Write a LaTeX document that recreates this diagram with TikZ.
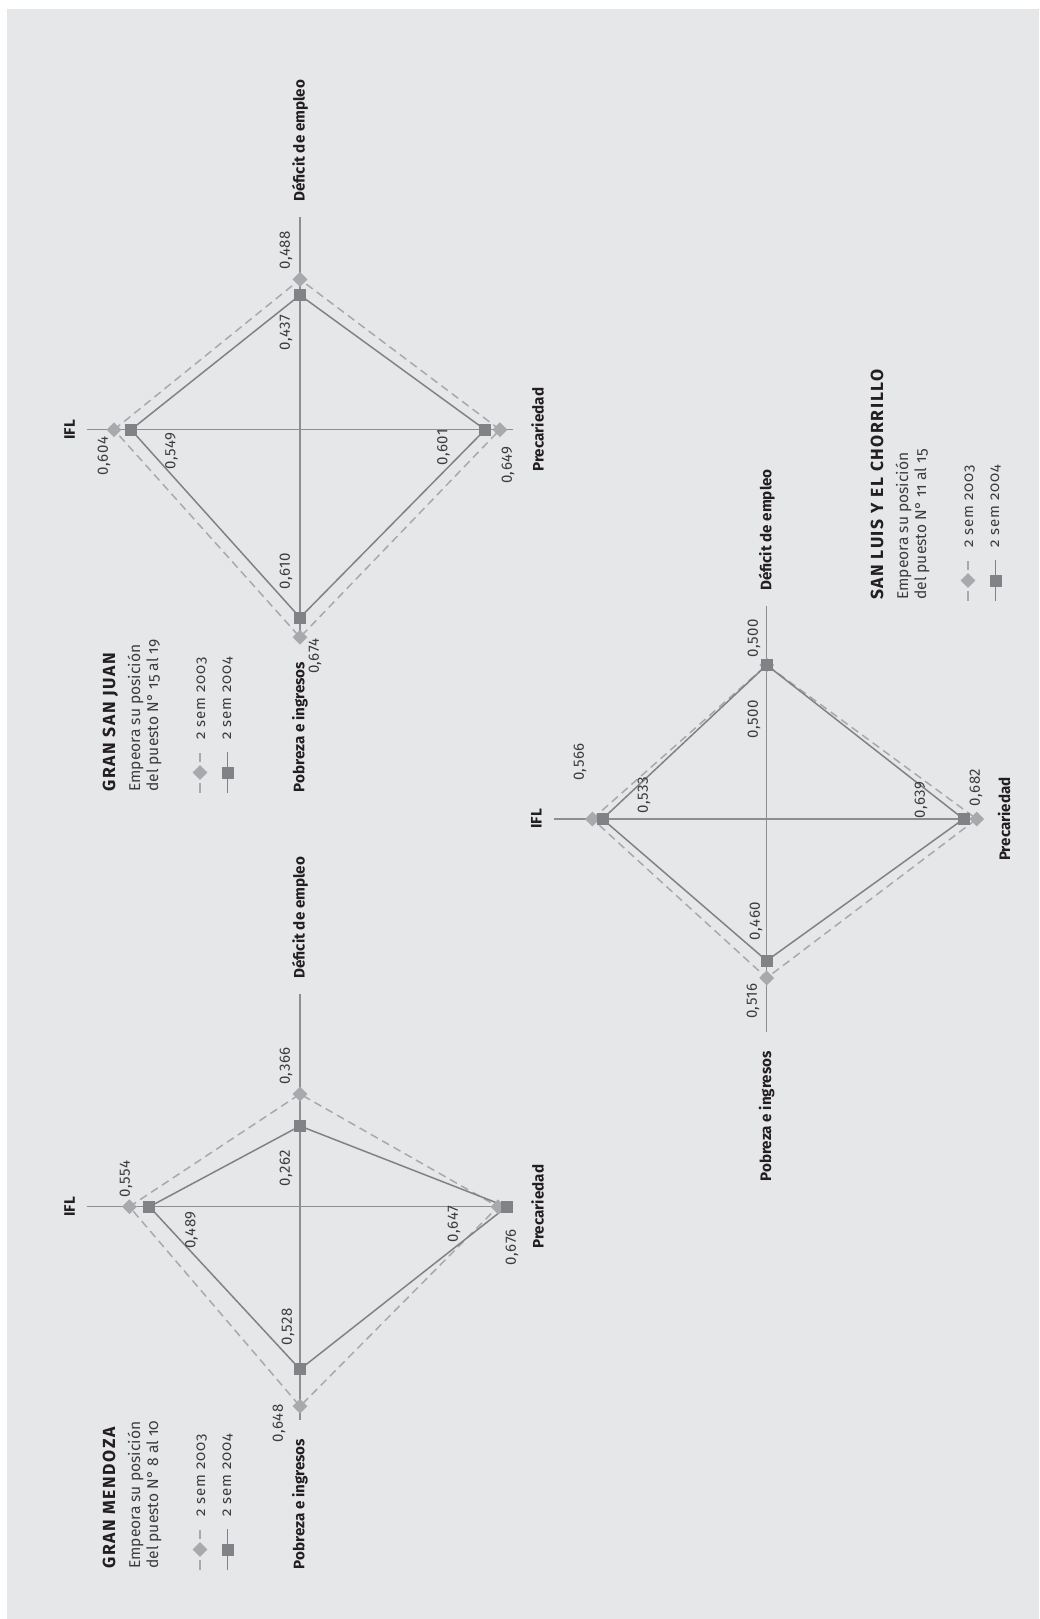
\documentclass[tikz,border=0pt]{standalone}
\usepackage{fontspec}
\setmainfont{Fira Sans}
\newfontfamily\titlefont{Fira Sans}[LetterSpace=9]
\newfontfamily\subfont{Fira Sans}[Numbers=OldStyle]
\newfontfamily\legfont{Fira Sans}[LetterSpace=6, Numbers=OldStyle]
\newfontfamily\valfont{Fira Sans}[LetterSpace=4]
\usetikzlibrary{shapes.geometric}
\definecolor{bg}{HTML}{E6E7E8}
\definecolor{axisc}{HTML}{8C8E90}
\definecolor{cfour}{HTML}{808285}
\definecolor{cthree}{HTML}{A7A9AC}
\definecolor{txt}{HTML}{231F20}
\definecolor{valtxt}{HTML}{3C3C3E}
\tikzset{
  axisline/.style={draw=axisc, line width=1.3pt},
  polythree/.style={draw=cthree, line width=1.5pt, dash pattern=on 8pt off 5pt},
  polyfour/.style={draw=cfour, line width=1.5pt},
  mkthree/.style={shape=diamond, fill=cthree, inner sep=0pt, minimum width=15pt, minimum height=15pt},
  mkfour/.style={shape=rectangle, fill=cfour, inner sep=0pt, minimum size=12pt},
  axlab/.style={rotate=90, inner sep=0pt, text=txt, font=\fontsize{15.2}{17}\selectfont\bfseries},
  val/.style={rotate=90, inner sep=0pt, text=valtxt, font=\valfont\fontsize{15}{17}\selectfont},
  ttl/.style={rotate=90, inner sep=0pt, anchor=base west, text=txt, font=\titlefont\fontsize{17.5}{20}\selectfont\bfseries},
  subt/.style={rotate=90, inner sep=0pt, anchor=base west, text=valtxt, font=\subfont\fontsize{15.6}{17}\selectfont},
  legt/.style={rotate=90, inner sep=0pt, anchor=base west, text=valtxt, font=\legfont\fontsize{15}{17}\selectfont},
  legdash/.style={draw=cthree, line width=1.5pt},
  legsolid/.style={draw=cfour, line width=1.5pt},
}
% #1 prefix, #2 IFL03, #3 IFL04, #4 DEF03, #5 DEF04, #6 PRE03, #7 PRE04, #8 POB03, #9 POB04 (pixels from centre)
\newcommand\radarchart[9]{%
  \coordinate (#1-c) at (0,0);
  \coordinate (#1-axl) at (-213,0);
  \coordinate (#1-axr) at (213,0);
  \coordinate (#1-axt) at (0,-213);
  \coordinate (#1-axb) at (0,213);
  \draw[axisline] (#1-axl) -- (#1-axr);
  \draw[axisline] (#1-axt) -- (#1-axb);
  \coordinate (#1-a1) at (-#2,0);
  \coordinate (#1-a2) at (0,-#4);
  \coordinate (#1-a3) at (#6,0);
  \coordinate (#1-a4) at (0,#8);
  \coordinate (#1-b1) at (-#3,0);
  \coordinate (#1-b2) at (0,-#5);
  \coordinate (#1-b3) at (#7,0);
  \coordinate (#1-b4) at (0,#9);
  \draw[polythree] (#1-a1) -- (#1-a2) -- (#1-a3) -- (#1-a4) -- cycle;
  \draw[polyfour] (#1-b1) -- (#1-b2) -- (#1-b3) -- (#1-b4) -- cycle;
  \node[mkthree] (#1-ma1) at (#1-a1) {};
  \node[mkthree] (#1-ma2) at (#1-a2) {};
  \node[mkthree] (#1-ma3) at (#1-a3) {};
  \node[mkthree] (#1-ma4) at (#1-a4) {};
  \node[mkfour] (#1-mb1) at (#1-b1) {};
  \node[mkfour] (#1-mb2) at (#1-b2) {};
  \node[mkfour] (#1-mb3) at (#1-b3) {};
  \node[mkfour] (#1-mb4) at (#1-b4) {};
  \node[axlab, anchor=south] (#1-lifl) at (-225,0) {IFL};
  \node[axlab, anchor=west] (#1-ldef) at (0,-228) {Déficit de empleo};
  \node[axlab, anchor=north] (#1-lpre) at (231,0) {Precariedad};
  \node[axlab, anchor=east] (#1-lpob) at (0,232) {Pobreza e ingresos};
}
% #1 prefix, #2 title, #3 second subtitle line
\newcommand\legendblock[3]{%
  \node[ttl] (#1-title) at (115,792) {#2};
  \node[subt] (#1-sub1) at (140,792) {Empeora su posición};
  \node[subt] (#1-sub2) at (158,792) {#3};
  \node[mkthree] (#1-kd) at (200,772.5) {};
  \coordinate (#1-kdt) at (200,753);
  \coordinate (#1-kdb) at (200,793);
  \draw[legdash, shorten >=3pt] (#1-kdt) -- (#1-kd);
  \draw[legdash, shorten >=3pt] (#1-kdb) -- (#1-kd);
  \coordinate (#1-kst) at (227.7,752);
  \coordinate (#1-ksb) at (227.7,793);
  \draw[legsolid] (#1-kst) -- (#1-ksb);
  \node[mkfour] (#1-ks) at (227.7,772.5) {};
  \node[legt] (#1-k1) at (205,740) {2 sem 2003};
  \node[legt] (#1-k2) at (231,740) {2 sem 2004};
}
\begin{document}
\begin{tikzpicture}[x=1pt,y=-1pt]
\useasboundingbox (0,0) rectangle (1039,1619);
\fill[bg] (7,9) rectangle (1039,1619);

% Gran Mendoza
\begin{scope}[shift={(300,1206.7)}]
  \radarchart{m}{170.6}{150.6}{112.7}{80.7}{198}{206.7}{199.6}{162.6}
\end{scope}
\begin{scope}[shift={(0,777)}]
  \legendblock{m}{GRAN MENDOZA}{del puesto N° 8 al 10}
\end{scope}
\node[val] (m-v1) at (126,1179) {0,554};
\node[val] (m-v2) at (191.5,1230) {0,489};
\node[val] (m-v3) at (286,1066) {0,366};
\node[val] (m-v4) at (286,1168) {0,262};
\node[val] (m-v5) at (454,1224) {0,647};
\node[val] (m-v6) at (512,1247) {0,676};
\node[val] (m-v7) at (288,1326.5) {0,528};
\node[val] (m-v8) at (279,1423.5) {0,648};

% Gran San Juan
\begin{scope}[shift={(300,429.7)}]
  \radarchart{j}{186}{169}{150.3}{134.6}{199.9}{185.1}{207.6}{187.9}
\end{scope}
\begin{scope}[shift={(0,0)}]
  \legendblock{j}{GRAN SAN JUAN}{del puesto N° 15 al 19}
\end{scope}
\node[val] (j-v1) at (104,456) {0,604};
\node[val] (j-v2) at (171.5,451) {0,549};
\node[val] (j-v3) at (286,250) {0,488};
\node[val] (j-v4) at (286,332.5) {0,437};
\node[val] (j-v5) at (443.5,447.5) {0,601};
\node[val] (j-v6) at (508,465) {0,649};
\node[val] (j-v7) at (286,571) {0,610};
\node[val] (j-v8) at (315,656) {0,674};

% San Luis y El Chorrillo
\begin{scope}[shift={(766.7,819)}]
  \radarchart{l}{174.3}{164.2}{154}{154}{210}{196.8}{158.9}{141.7}
\end{scope}
\begin{scope}[shift={(768,-192)}]
  \legendblock{l}{SAN LUIS Y EL CHORRILLO}{del puesto N° 11 al 15}
\end{scope}
\node[val] (l-v1) at (580,762) {0,566};
\node[val] (l-v2) at (644,795) {0,533};
\node[val] (l-v3) at (754,638) {0,500};
\node[val] (l-v4) at (754,719) {0,500};
\node[val] (l-v5) at (921,800) {0,639};
\node[val] (l-v6) at (976,787.5) {0,682};
\node[val] (l-v7) at (756,921) {0,460};
\node[val] (l-v8) at (753,1001) {0,516};
\end{tikzpicture}
\end{document}
